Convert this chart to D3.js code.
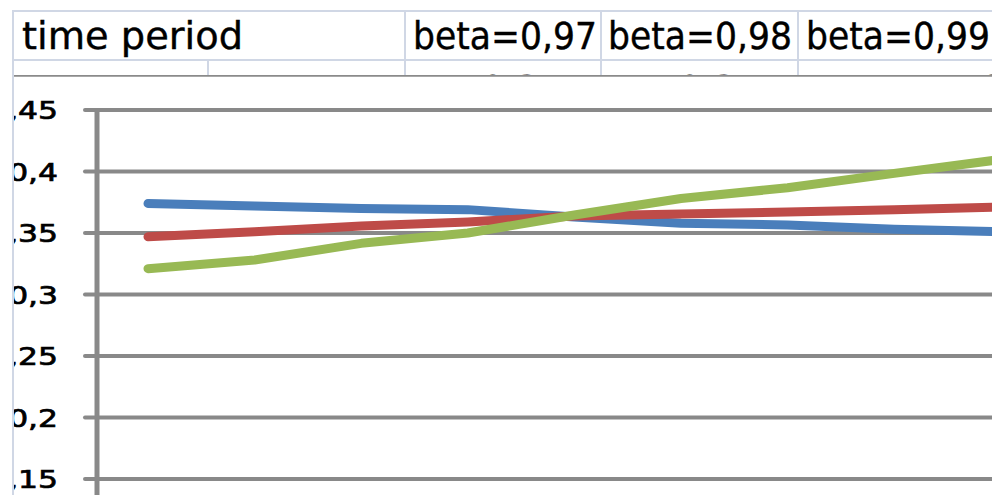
<!DOCTYPE html>
<html>
<head>
<meta charset="utf-8">
<script src="https://cdn.jsdelivr.net/npm/d3@7"></script>
<style>
  html, body { margin: 0; padding: 0; background: #fff; }
  svg { display: block; }
  text { font-family: "DejaVu Sans", Verdana, sans-serif; fill: #000; }
</style>
</head>
<body>
<svg id="sheet" width="992" height="495"></svg>
<script>
// ---- data ----
const periods = [1, 2, 3, 4, 5, 6, 7, 8, 9];
const beta097 = [0.374, 0.372, 0.370, 0.369, 0.363, 0.358, 0.3565, 0.353, 0.351];
const beta098 = [0.347, 0.351, 0.3557, 0.359, 0.3638, 0.3655, 0.367, 0.369, 0.371];
const beta099 = [0.321, 0.328, 0.3416, 0.350, 0.3646, 0.378, 0.3868, 0.3985, 0.4098];
const seriesNames = ["beta=0,97", "beta=0,98", "beta=0,99"];
const headerLabels = ["time period", ...seriesNames];
const yTicks = [0.1, 0.15, 0.2, 0.25, 0.3, 0.35, 0.4, 0.45];

const colors = ["#4a7ebb", "#be4b48", "#98b954"];
const series = [beta097, beta098, beta099];

const svg = d3.select("#sheet");
const fmt = v => d3.format(".3f")(v).replace(".", ",");
const fmtTick = v => d3.format("~g")(v).replace(".", ",");

// ---- worksheet cells behind the chart ----
const gridColor = "#d0d7e5";
const colEdges = [13, 208, 405, 601, 798, 1100];
const sheet = svg.append("g");

// header row text (columns A and B hold the first label)
const headerX = [22, 413, 608, 806];
const headerW = [221, 184, 184, 184];
sheet.selectAll("text.hdr").data(headerLabels).join("text")
  .attr("class", "hdr")
  .attr("x", (d, i) => headerX[i])
  .attr("y", 49)
  .attr("textLength", (d, i) => headerW[i])
  .attr("lengthAdjust", "spacingAndGlyphs")
  .style("font-size", "37px")
  .style("stroke", "#000").style("stroke-width", 0.4)
  .text(d => d);

// second row: first period and the first value of each series (right aligned)
const row2 = [String(periods[0]), "", fmt(beta097[0]), fmt(beta098[0]), fmt(beta099[0])];
sheet.selectAll("text.r2").data(row2).join("text")
  .attr("class", "r2")
  .attr("x", (d, i) => colEdges[i + 1] - 14)
  .attr("y", 101.5)
  .attr("text-anchor", "end")
  .style("font-size", "37px")
  .text(d => d);

// gridlines of the sheet
sheet.append("line").attr("x1", 12).attr("x2", 992).attr("y1", 11).attr("y2", 11)
  .attr("stroke", gridColor).attr("stroke-width", 2);
sheet.append("line").attr("x1", 12).attr("x2", 992).attr("y1", 60).attr("y2", 60)
  .attr("stroke", gridColor).attr("stroke-width", 2);
sheet.selectAll("line.col").data(colEdges.slice(0, 5)).join("line")
  .attr("class", "col")
  .attr("x1", d => d).attr("x2", d => d)
  .attr("y1", (d, i) => i === 1 ? 60 : 10)
  .attr("y2", 80)
  .attr("stroke", gridColor).attr("stroke-width", 2);

// ---- embedded chart ----
const chart = svg.append("g");
svg.append("clipPath").attr("id", "chartClip")
  .append("rect").attr("x", 14).attr("y", 75).attr("width", 992).attr("height", 430);
const ch = chart.append("g").attr("clip-path", "url(#chartClip)");

ch.append("rect").attr("x", 0).attr("y", 75).attr("width", 1000).attr("height", 430)
  .attr("fill", "#fff");
ch.append("line").attr("x1", 0).attr("x2", 1000).attr("y1", 75.5).attr("y2", 75.5)
  .attr("stroke", "#8a8a8a").attr("stroke-width", 2.5);

const x = d3.scalePoint().domain(periods).range([148, 1000.8]);
const y = d3.scaleLinear().domain([0.1, 0.45]).range([540.5, 110]);

const axisColor = "#898989";
// horizontal gridlines with their tick marks
ch.selectAll("line.grid").data(yTicks).join("line")
  .attr("class", "grid")
  .attr("x1", 85).attr("x2", 1100)
  .attr("y1", d => y(d)).attr("y2", d => y(d))
  .attr("stroke", axisColor).attr("stroke-width", 4)
  .attr("stroke-linecap", "round");
// value axis line
ch.append("line").attr("x1", 97).attr("x2", 97).attr("y1", y(0.45) - 2).attr("y2", 560)
  .attr("stroke", axisColor).attr("stroke-width", 5);

// tick labels (wide lettering of the value axis)
ch.selectAll("text.tick").data(yTicks).join("text")
  .attr("class", "tick")
  .attr("transform", d => `translate(58,${y(d) + 9}) scale(1.28,1)`)
  .attr("text-anchor", "end")
  .style("font-size", "24.5px")
  .style("stroke", "#000").style("stroke-width", 0.7)
  .text(d => fmtTick(d));

// series lines
const line = d3.line().x((d, i) => x(periods[i])).y(d => y(d));
ch.selectAll("path.series").data(series).join("path")
  .attr("class", "series")
  .attr("d", d => line(d))
  .attr("fill", "none")
  .attr("stroke", (d, i) => colors[i])
  .attr("stroke-width", 9)
  .attr("stroke-linecap", "round")
  .attr("stroke-linejoin", "round");

// sheet's left frame line drawn over everything
svg.append("line").attr("x1", 13).attr("x2", 13).attr("y1", 10).attr("y2", 495)
  .attr("stroke", gridColor).attr("stroke-width", 2);
</script>
</body>
</html>
